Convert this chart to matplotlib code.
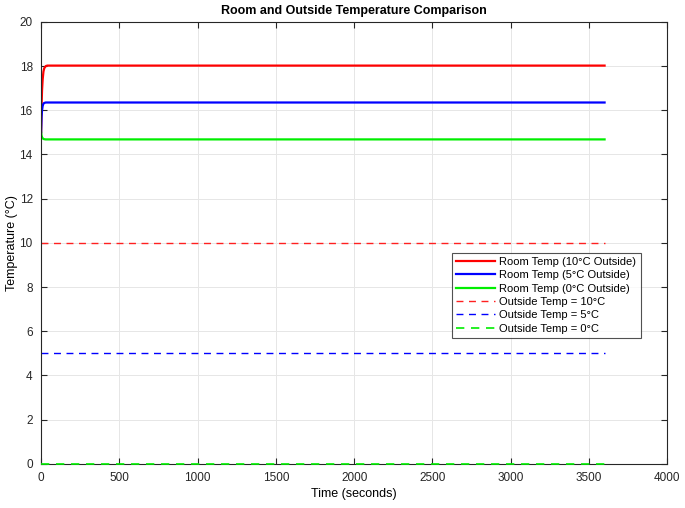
import matplotlib
matplotlib.use("Agg")
import matplotlib.pyplot as plt

plt.rcParams['font.family'] = ['Liberation Sans', 'DejaVu Sans']

# time samples (s) and room temperatures
t = [0, 3, 6, 10, 15, 20, 30, 40, 60, 3600]
room_10 = [15.0, 16.2, 16.9, 17.4, 17.75, 17.9, 18.0, 18.02, 18.02, 18.02]
room_5 = [15.0, 15.7, 16.0, 16.2, 16.3, 16.33, 16.35, 16.35, 16.35, 16.35]
room_0 = [15.0, 14.85, 14.78, 14.73, 14.7, 14.69, 14.68, 14.68, 14.68, 14.68]

t_out = [0, 3600]
out_10 = [10, 10]
out_5 = [5, 5]
out_0 = [0, 0]

fig = plt.figure(figsize=(6.85, 5.08), dpi=100)
ax = fig.add_axes([0.06, 0.087, 0.914, 0.87])

ax.plot(t, room_10, color='#ff0000', lw=1.6, label='Room Temp (10°C Outside)')
ax.plot(t, room_5, color='#0000ff', lw=1.6, label='Room Temp (5°C Outside)')
ax.plot(t, room_0, color='#00ee00', lw=1.6, label='Room Temp (0°C Outside)')
ax.plot(t_out, out_10, color='#ff2020', lw=1.0, ls='--', dashes=(5, 4), label='Outside Temp = 10°C')
ax.plot(t_out, out_5, color='#0000ff', lw=1.0, ls='--', dashes=(5, 4), label='Outside Temp = 5°C')
ax.plot(t_out, out_0, color='#00ee00', lw=1.2, ls='--', dashes=(5, 4), label='Outside Temp = 0°C',
        clip_on=False, zorder=5)

ax.set_xlim(0, 4000)
ax.set_ylim(0, 20)
ax.set_xticks(range(0, 4001, 500))
ax.set_yticks(range(0, 21, 2))
ax.grid(True, color='#e6e6e6', lw=0.7)
ax.set_axisbelow(True)
ax.tick_params(direction='in', top=True, right=True, labelsize=8.5, colors='#262626',
               length=4, pad=6)
for s in ax.spines.values():
    s.set_color('#262626')
    s.set_linewidth(0.8)

ax.set_title('Room and Outside Temperature Comparison', fontsize=9, fontweight='bold', pad=6)
ax.set_xlabel('Time (seconds)', fontsize=9, labelpad=3)
ax.set_ylabel('Temperature (°C)', fontsize=9, labelpad=1)

leg = ax.legend(loc='upper right', bbox_to_anchor=(0.958, 0.478), fontsize=8, frameon=True,
                fancybox=False, edgecolor='#262626', handlelength=3.5, borderpad=0.4,
                labelspacing=0.3, handletextpad=0.4, borderaxespad=0)
leg.get_frame().set_linewidth(0.8)

fig.savefig('out.png', dpi=100)
